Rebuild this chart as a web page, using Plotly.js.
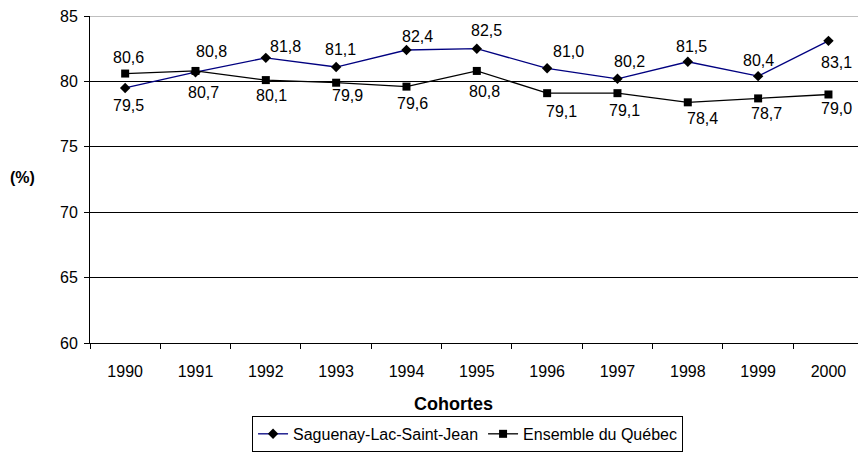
<!DOCTYPE html>
<html>
<head>
<meta charset="utf-8">
<script src="https://cdn.plot.ly/plotly-3.0.1.min.js"></script>
<style>html,body{margin:0;padding:0;background:#fff;overflow:hidden}</style>
</head>
<body>
<div id="chart" style="width:858px;height:452px"></div>
<script>
var years = ["1990","1991","1992","1993","1994","1995","1996","1997","1998","1999","2000"];
var saguenay = [79.5, 80.7, 81.8, 81.1, 82.4, 82.5, 81.0, 80.2, 81.5, 80.4, 83.1];
var quebec = [80.6, 80.8, 80.1, 79.9, 79.6, 80.8, 79.1, 79.1, 78.4, 78.7, 79.0];
var seriesNames = ["Saguenay-Lac-Saint-Jean", "Ensemble du Québec"];

// label offsets (px) for the data labels
var sagDx = [3, 8, 20, 4, 11, 10, 21, 12, 4, 0, 8];
var sagDy = [-18, -20, 11, 18, 14, 18, 17, 17, 15, 16, -22];
var queDx = [3, 16, 6, 11, 6, 8, 14, 7, 15, 8, 8];
var queDy = [16, 19, -15, -13, -17, -21, -18, -17, -16, -15, -14];

var FONT = "'Liberation Sans', Arial, sans-serif";
var FS = 16;
function fmt(v){ return v.toFixed(1).replace(".", ","); }

var traces = [
  {x: years, y: saguenay, name: seriesNames[0], type: "scatter", mode: "lines+markers",
   line: {color: "#000080", width: 1.3},
   marker: {symbol: "diamond", size: 8, color: "#000000"}},
  {x: years, y: quebec, name: seriesNames[1], type: "scatter", mode: "lines+markers",
   line: {color: "#000000", width: 1.3},
   marker: {symbol: "square", size: 8, color: "#000000"}}
];

var ann = [];
years.forEach(function(yr, i){
  ann.push({x: i, y: saguenay[i], xref: "x", yref: "y", text: fmt(saguenay[i]), showarrow: false,
    xanchor: "center", yanchor: "middle",
    xshift: sagDx[i], yshift: sagDy[i], font: {family: FONT, size: FS, color: "#000"}});
  ann.push({x: i, y: quebec[i], xref: "x", yref: "y", text: fmt(quebec[i]), showarrow: false,
    xanchor: "center", yanchor: "middle",
    xshift: queDx[i], yshift: queDy[i], font: {family: FONT, size: FS, color: "#000"}});
});
ann.push({x: 0.4727, y: -0.187, xref: "paper", yref: "paper", text: "<b>Cohortes</b>", showarrow: false,
  xanchor: "center", yanchor: "middle", font: {family: FONT, size: 18, color: "#000"}});
ann.push({xref: "paper", yref: "paper", x: -0.088, y: 0.505, text: "<b>(%)</b>", showarrow: false,
  xanchor: "center", yanchor: "middle", font: {family: FONT, size: 16, color: "#000"}});

var layout = {
  width: 858, height: 452,
  margin: {l: 90, r: 0, t: 16, b: 104, pad: 0},
  paper_bgcolor: "#fff", plot_bgcolor: "#fff",
  font: {family: FONT, size: FS, color: "#000"},
  showlegend: true,
  legend: {orientation: "h", x: 0.211, y: -0.223, xanchor: "left", yanchor: "top",
    bordercolor: "#000", borderwidth: 1, bgcolor: "#fff",
    font: {family: FONT, size: FS, color: "#000"}, itemwidth: 30, tracegroupgap: 0},
  xaxis: {type: "category", range: [-0.5, 10.42], tickson: "boundaries",
    ticks: "outside", ticklen: 5, tickcolor: "#000", showline: true, linecolor: "#000", linewidth: 1,
    showgrid: false, zeroline: false, fixedrange: true, ticklabelstandoff: 14,
    tickfont: {family: FONT, size: FS, color: "#000"}},
  yaxis: {range: [60, 85], tick0: 60, dtick: 5, ticks: "outside", ticklen: 5, tickcolor: "#000",
    showline: true, linecolor: "#000", linewidth: 1, showgrid: true, gridcolor: "#000", gridwidth: 1,
    zeroline: false, fixedrange: true, ticklabelstandoff: 3,
    tickfont: {family: FONT, size: FS, color: "#000"}},
  shapes: [{type: "line", xref: "paper", yref: "y", x0: 0, x1: 1, y0: 85, y1: 85,
    line: {color: "#808080", width: 1}}],
  annotations: ann
};

Plotly.newPlot("chart", traces, layout, {displayModeBar: false, staticPlot: true});
</script>
</body>
</html>
